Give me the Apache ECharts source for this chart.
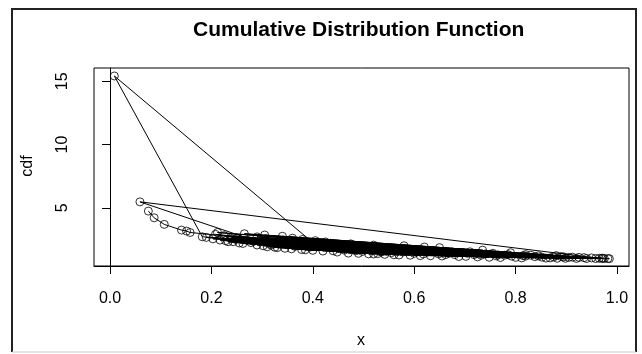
<!DOCTYPE html>
<html>
<head>
<meta charset="utf-8">
<script src="https://cdn.jsdelivr.net/npm/echarts@6/dist/echarts.min.js"></script>
<style>
html,body{margin:0;padding:0;background:#fff;}
#chart{width:642px;height:354px;}
</style>
</head>
<body>
<div id="chart"></div>
<script>
// Points in plotting order (R type="b", unsorted x)
var xValues = [
0.0756,0.087,0.107,0.141,0.151,0.158,0.612,0.27,0.845,0.455,0.203,0.74,0.352,0.92,0.535,0.233,0.695,
0.49,0.875,0.298,0.64,0.385,0.785,0.19,0.56,0.905,0.318,0.668,0.478,0.243,0.812,0.43,0.725,
0.182,0.0085,0.42,0.86,0.262,0.585,0.372,0.95,0.505,0.217,0.77,0.345,0.625,0.89,0.29,0.548,0.44,0.71,
0.225,0.655,0.83,0.365,0.52,0.278,0.94,0.47,0.60,0.325,0.059,0.965,0.392,0.755,0.25,0.57,0.31,0.80,
0.515,0.68,0.335,0.972,0.40,0.208,0.632,0.868,0.283,0.498,0.748,0.358,0.592,0.238,0.912,0.448,0.702,
0.33,0.82,0.542,0.255,0.675,0.415,0.958,0.302,0.578,0.778,0.462,0.882,0.378,0.648,0.528,0.718,0.395,
0.852,0.51,0.605,0.762,0.485,0.935,0.555,0.688,0.618,0.792,0.898,0.732,0.662,0.838,
0.212,0.705,0.34,0.88,0.265,0.58,0.405,0.79,0.228,0.65,0.475,0.925,0.305,0.545,0.735,0.425,0.97,
0.36,0.62,0.82,0.248,0.52,0.765,0.435,0.895,0.29,0.665,0.38,0.815,0.535,
0.975,0.985,0.982
];
var cdfValues = [
4.74,4.21,3.69,3.24,3.16,3.05,1.22,2.45,1.20,1.85,2.55,1.35,2.30,1.00,1.55,2.32,1.45,
1.40,1.12,2.55,1.60,1.68,1.30,2.66,1.29,1.08,2.05,1.40,1.75,2.32,1.04,1.95,1.12,
2.71,15.42,1.58,1.02,2.18,1.62,2.10,1.04,1.70,2.45,1.07,1.80,1.48,1.15,2.06,1.80,1.60,1.52,
2.80,1.19,1.25,1.95,1.35,2.25,0.99,1.42,1.40,1.88,5.47,1.01,2.05,1.40,2.60,1.27,1.92,1.08,
1.85,1.30,2.40,1.02,1.64,2.90,1.21,1.04,2.35,1.55,1.09,1.76,1.25,2.60,1.10,1.50,1.16,
1.85,1.30,1.32,2.22,1.50,2.00,0.99,2.00,1.50,1.25,1.65,1.01,1.70,1.35,1.38,1.30,1.90,
1.10,1.36,1.55,1.20,1.60,1.06,1.45,1.15,1.35,1.18,1.01,1.25,1.30,1.14,
3.05,1.40,2.75,1.22,2.95,2.00,2.40,1.45,2.40,1.85,2.15,1.08,2.85,1.55,1.65,2.30,1.00,
2.60,1.90,1.18,2.50,2.05,1.28,2.20,1.12,2.70,1.45,2.50,1.22,1.50,
0.985,0.98,0.99
];
var xTicks = [0, 0.2, 0.4, 0.6, 0.8, 1.0];
var yTicks = [5, 10, 15];

var seriesData = xValues.map(function (v, i) { return [v, cdfValues[i]]; });

var chart = echarts.init(document.getElementById('chart'), null, {renderer: 'canvas'});
var font = 'Liberation Sans, Arial, sans-serif';
chart.setOption({
  animation: false,
  backgroundColor: '#ffffff',
  title: {
    text: 'Cumulative Distribution Function',
    left: 188, top: 15,
    textStyle: {fontFamily: font, fontSize: 21, fontWeight: 'bold', color: '#000'}
  },
  grid: {left: 94, right: 13, top: 68, bottom: 88, show: true, borderColor: '#000', borderWidth: 1, backgroundColor: 'transparent'},
  xAxis: {
    type: 'value', min: -0.0316, max: 1.0237,
    axisLine: {show: true, lineStyle: {color: '#000', width: 1}},
    axisTick: {show: true, length: 8, inside: false, customValues: xTicks, lineStyle: {color: '#000'}},
    axisLabel: {show: true, customValues: xTicks, margin: 25, fontFamily: font, fontSize: 16, color: '#000',
      formatter: function (v) { return v.toFixed(1); }},
    splitLine: {show: false}
  },
  yAxis: {
    type: 'value', min: 0.40, max: 16.05,
    axisLine: {show: true, lineStyle: {color: '#000', width: 1}},
    axisTick: {show: true, length: 8, inside: false, customValues: yTicks, lineStyle: {color: '#000'}},
    axisLabel: {show: true, customValues: yTicks, rotate: 90, margin: 23, fontFamily: font, fontSize: 16, color: '#000'},
    splitLine: {show: false}
  },
  graphic: [
    {type: 'polyline', shape: {points: [[12, 352], [12, 9], [636, 9], [636, 352]]}, style: {stroke: '#222', lineWidth: 2, fill: null}, silent: true},
    {type: 'line', shape: {x1: 12, y1: 352, x2: 636, y2: 352}, style: {stroke: '#c8c8c8', lineWidth: 1}, silent: true},
    {type: 'text', left: 357, top: 333, style: {text: 'x', font: '16px ' + font, fill: '#000'}},
    {type: 'text', x: 28, y: 166, rotation: Math.PI / 2, style: {text: 'cdf', font: '16px ' + font, fill: '#000', textAlign: 'center', textVerticalAlign: 'middle'}}
  ],
  series: [{
    type: 'line',
    data: seriesData,
    showSymbol: false,
    lineStyle: {color: '#000', width: 1},
    emphasis: {disabled: true},
    clip: false,
    z: 2
  }, {
    type: 'scatter',
    data: seriesData,
    symbol: 'circle',
    symbolSize: 8,
    itemStyle: {color: 'rgba(255,255,255,0)', borderColor: '#000', borderWidth: 1},
    emphasis: {disabled: true},
    z: 3
  }]
});
</script>
</body>
</html>
